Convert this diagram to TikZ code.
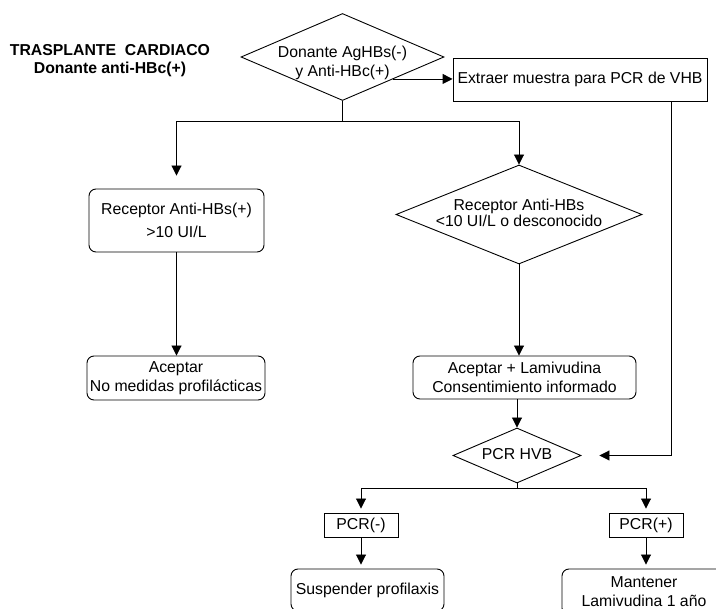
\documentclass[tikz,border=0pt]{standalone}
\usepackage{fontspec}
\setmainfont{Liberation Sans}
\usetikzlibrary{shapes.geometric,arrows.meta}
\newcommand{\dtxt}[2][0pt]{\makebox[0pt]{\rule{0pt}{#1}\begin{tabular}{@{}c@{}}#2\end{tabular}}}

\begin{document}
\begin{tikzpicture}[x=1pt,y=-1pt,
	font=\fontsize{15.8}{19}\selectfont,
	line width=0.9pt,
	caja/.style={draw,rectangle,align=center,inner sep=0pt},
	cajar/.style={caja,rounded corners=7pt},
	decision/.style={draw,diamond,inner sep=0pt},
	flecha/.style={-{Triangle[length=10pt,width=10pt]}}]
	\useasboundingbox (0,0) rectangle (716,609);
	\clip (0,0) rectangle (716,609);
	\node[align=center,font=\fontsize{15.8}{18}\selectfont\bfseries] (titulo) at (110,61) {TRASPLANTE\ \ CARDIACO\\Donante anti-HBc(+)};
	\node[decision,minimum width=203pt,minimum height=87pt] (d1) at (342.5,57) {\dtxt[35pt]{Donante AgHBs(-)\\y Anti-HBc(+)}};
	\node[caja,minimum width=254pt,minimum height=43pt] (extraer) at (580,79.5) {Extraer muestra para PCR de VHB};
	\node[cajar,minimum width=175pt,minimum height=63pt] (recep) at (176.5,220.5) {Receptor Anti-HBs(+)\\[3.5pt]>10 UI/L};
	\node[decision,minimum width=246pt,minimum height=99pt] (d2) at (519,214.5) {\dtxt{Receptor Anti-HBs\\[-3.5pt]<10 UI/L o desconocido}};
	\node[cajar,minimum width=178pt,minimum height=44pt] (acept) at (176,378) {Aceptar\\No medidas profilácticas};
	\node[cajar,minimum width=223pt,minimum height=43pt] (aceptl) at (524.5,377.5) {Aceptar + Lamivudina\\Consentimiento informado};
	\node[decision,minimum width=128pt,minimum height=55pt] (d3) at (517,455.5) {\dtxt{PCR HVB}};
	\node[caja,minimum width=74pt,minimum height=24pt] (pneg) at (361,525) {PCR(-)};
	\node[caja,minimum width=74pt,minimum height=24pt] (ppos) at (646,525) {PCR(+)};
	\node[cajar,minimum width=153pt,minimum height=42pt] (susp) at (367.5,590) {Suspender profilaxis};
	\node[cajar,minimum width=164pt,minimum height=46pt] (mant) at (644,592) {Mantener\\Lamivudina 1 año};

	\draw[flecha] (d1.south east) -- (d1.south east -| extraer.west);
	\draw[flecha,shorten >=18pt] ([xshift=91pt]extraer.south) |- (d3.east);
	\draw (d1.south) -- ++(0,21) coordinate (r1);
	\draw[flecha,shorten >=13pt] (r1) -| (recep.north);
	\draw[flecha] (r1) -| (d2.north);
	\draw[flecha] (recep.south) -- (recep.south |- acept.north);
	\draw[flecha] (d2.south) -- (d2.south |- aceptl.north);
	\draw[flecha] (d3.north |- aceptl.south) -- (d3.north);
	\draw (d3.south) -- ++(0,5) coordinate (r2);
	\draw[flecha,shorten >=4pt] (r2) -| (pneg.north);
	\draw[flecha,shorten >=4pt] (r2) -| (ppos.north);
	\draw[flecha,shorten >=4pt] (pneg.south) -- (pneg.south |- susp.north);
	\draw[flecha,shorten >=4pt] (ppos.south) -- (ppos.south |- mant.north);
\end{tikzpicture}
\end{document}
